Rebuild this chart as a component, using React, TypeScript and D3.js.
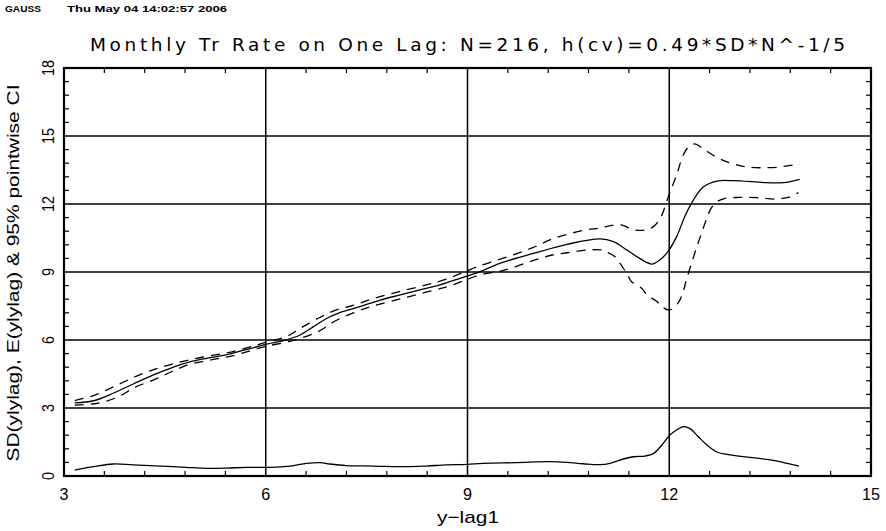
import React from "react";
import * as d3 from "d3";

// ---- data ----
const meanX = [3.16, 3.44, 3.73, 4.03, 4.33, 4.58, 4.87, 5.12, 5.42, 5.69, 6.0, 6.31, 6.51, 6.71, 6.91, 7.1, 7.4, 7.7, 8.0, 8.29, 8.59, 8.89, 9.18, 9.48, 9.98, 10.48, 10.97, 11.17, 11.37, 11.56, 11.74, 11.86, 11.98, 12.11, 12.23, 12.36, 12.51, 12.71, 12.95, 13.45, 13.7, 13.94];
const meanY = [3.23, 3.32, 3.65, 4.06, 4.46, 4.75, 5.03, 5.19, 5.35, 5.56, 5.81, 6.01, 6.22, 6.59, 6.96, 7.21, 7.47, 7.76, 7.99, 8.21, 8.43, 8.72, 9.01, 9.38, 9.82, 10.22, 10.46, 10.34, 9.97, 9.6, 9.35, 9.53, 9.9, 10.56, 11.44, 12.18, 12.76, 13.01, 13.03, 12.94, 12.94, 13.09];

const upperX = [3.16, 3.44, 3.76, 4.06, 4.32, 4.6, 4.87, 5.2, 5.5, 5.8, 6.0, 6.3, 6.51, 6.78, 7.04, 7.3, 7.6, 8.0, 8.4, 8.69, 8.96, 9.15, 9.52, 9.96, 10.3, 10.75, 10.97, 11.13, 11.3, 11.45, 11.6, 11.76, 11.88, 11.96, 12.04, 12.11, 12.2, 12.28, 12.38, 12.49, 12.6, 12.75, 12.87, 13.02, 13.17, 13.35, 13.6, 13.84, 13.94];
const upperY = [3.33, 3.55, 3.97, 4.38, 4.68, 4.93, 5.13, 5.32, 5.48, 5.72, 5.9, 6.14, 6.51, 6.96, 7.32, 7.53, 7.83, 8.15, 8.44, 8.69, 9.01, 9.24, 9.6, 10.06, 10.5, 10.85, 10.94, 11.05, 11.07, 10.88, 10.84, 10.99, 11.45, 12.1, 12.75, 13.28, 14.1, 14.5, 14.65, 14.47, 14.25, 13.99, 13.85, 13.72, 13.63, 13.6, 13.62, 13.72, 13.75];

const lowerX = [3.16, 3.5, 3.79, 4.06, 4.35, 4.6, 4.87, 5.2, 5.5, 5.8, 6.0, 6.3, 6.51, 6.78, 7.04, 7.31, 7.6, 8.0, 8.4, 8.7, 8.95, 9.18, 9.56, 9.97, 10.26, 10.48, 10.79, 11.0, 11.07, 11.19, 11.3, 11.38, 11.44, 11.59, 11.67, 11.82, 11.9, 12.0, 12.13, 12.2, 12.26, 12.38, 12.46, 12.55, 12.62, 12.71, 12.83, 13.05, 13.3, 13.6, 13.8, 13.92];
const lowerY = [3.13, 3.21, 3.47, 3.92, 4.26, 4.6, 4.93, 5.13, 5.3, 5.55, 5.72, 5.9, 6.07, 6.37, 6.85, 7.21, 7.5, 7.81, 8.12, 8.35, 8.62, 8.87, 9.09, 9.5, 9.75, 9.85, 9.97, 9.97, 9.88, 9.68, 9.24, 8.87, 8.57, 8.28, 7.99, 7.69, 7.45, 7.32, 7.63, 8.07, 8.7, 9.84, 10.54, 11.3, 11.8, 12.1, 12.25, 12.29, 12.28, 12.22, 12.32, 12.5];

const sdX = [3.16, 3.44, 3.73, 4.03, 4.43, 4.82, 5.12, 5.42, 5.72, 6.06, 6.36, 6.61, 6.81, 6.95, 7.2, 7.6, 8.1, 8.39, 8.69, 8.99, 9.23, 9.73, 10.23, 10.48, 10.72, 10.97, 11.12, 11.32, 11.47, 11.64, 11.77, 11.89, 12.01, 12.11, 12.21, 12.31, 12.43, 12.56, 12.71, 12.9, 13.2, 13.5, 13.69, 13.93];
const sdY = [0.26, 0.41, 0.53, 0.49, 0.44, 0.38, 0.34, 0.35, 0.38, 0.38, 0.44, 0.56, 0.59, 0.53, 0.46, 0.44, 0.41, 0.44, 0.49, 0.51, 0.56, 0.59, 0.63, 0.6, 0.54, 0.5, 0.56, 0.75, 0.85, 0.88, 1.0, 1.37, 1.81, 2.03, 2.18, 2.09, 1.74, 1.37, 1.06, 0.93, 0.82, 0.71, 0.6, 0.44];

const xTicks = [3, 6, 9, 12, 15];
const yTicks = [0, 3, 6, 9, 12, 15, 18];
const titleText = "Monthly Tr Rate on One Lag: N=216, h(cv)=0.49*SD*N^-1/5";
const xLabel = "y\u2212lag1";
const yLabel = "SD(ylylag), E(ylylag) & 95% pointwise CI";

export default function App() {
  const W = 886, H = 531;
  const x = d3.scaleLinear().domain([3, 15]).range([64, 871]);
  const y = d3.scaleLinear().domain([0, 18]).range([476, 68]);
  const mk = (xs: number[], ys: number[]) =>
    d3.line<number>().x((_, i) => x(xs[i])).y((d) => y(d)).curve(d3.curveCatmullRom.alpha(0.5))(ys) || "";

  const minorX = d3.range(3, 15.001, 0.6).filter((v) => Math.abs(v / 3 - Math.round(v / 3)) > 1e-6);
  const minorY = d3.range(0, 18.001, 0.6).filter((v) => Math.abs(v / 3 - Math.round(v / 3)) > 1e-6);
  const tl = 5;
  const font = "'Liberation Sans', Arial, sans-serif";

  return (
    <svg width={W} height={H} style={{ position: "absolute", left: 0, top: 0, background: "#fff" }}>
      <rect width={W} height={H} fill="#fff" />
      {/* header */}
      <text x={5} y={11.5} fill="#000" fontFamily={font} fontWeight="bold" fontSize={9} textLength={36} lengthAdjust="spacingAndGlyphs">GAUSS</text>
      <text x={67} y={11.5} fill="#000" fontFamily={font} fontWeight="bold" fontSize={9} textLength={160} lengthAdjust="spacingAndGlyphs">Thu May 04 14:02:57 2006</text>
      {/* title */}
      <text x={90} y={51} fill="#000" fontFamily="'DejaVu Sans', sans-serif" fontSize={18.5} textLength={755} lengthAdjust="spacing">{titleText}</text>

      {/* grid */}
      {yTicks.filter((v) => v > 0 && v < 18).map((v) => (
        <line key={"gy" + v} x1={x(3)} x2={x(15)} y1={y(v)} y2={y(v)} stroke="#000" strokeWidth={1.5} />
      ))}
      {xTicks.filter((v) => v > 3 && v < 15).map((v) => (
        <line key={"gx" + v} x1={x(v)} x2={x(v)} y1={y(0)} y2={y(18)} stroke="#000" strokeWidth={1.5} />
      ))}
      {/* minor ticks */}
      {minorX.map((v) => (
        <g key={"mx" + v}>
          <line x1={x(v)} x2={x(v)} y1={y(0)} y2={y(0) - tl} stroke="#000" strokeWidth={1.2} />
          <line x1={x(v)} x2={x(v)} y1={y(18)} y2={y(18) + tl} stroke="#000" strokeWidth={1.2} />
        </g>
      ))}
      {minorY.map((v) => (
        <g key={"my" + v}>
          <line x1={x(3)} x2={x(3) + tl} y1={y(v)} y2={y(v)} stroke="#000" strokeWidth={1.2} />
          <line x1={x(15)} x2={x(15) - tl} y1={y(v)} y2={y(v)} stroke="#000" strokeWidth={1.2} />
        </g>
      ))}
      {/* frame */}
      <rect x={x(3)} y={y(18)} width={x(15) - x(3)} height={y(0) - y(18)} fill="none" stroke="#000" strokeWidth={2.2} />

      {/* curves */}
      <path d={mk(upperX, upperY)} fill="none" stroke="#000" strokeWidth={1.3} strokeDasharray="9,7" />
      <path d={mk(lowerX, lowerY)} fill="none" stroke="#000" strokeWidth={1.3} strokeDasharray="9,7" />
      <path d={mk(meanX, meanY)} fill="none" stroke="#000" strokeWidth={1.3} />
      <path d={mk(sdX, sdY)} fill="none" stroke="#000" strokeWidth={1.3} />

      {/* x tick labels */}
      {xTicks.map((v) => (
        <text key={"xl" + v} x={x(v)} y={500} fill="#000" textAnchor="middle" fontFamily={font} fontSize={17}
          textLength={String(v).length * 9} lengthAdjust="spacingAndGlyphs">{v}</text>
      ))}
      {/* y tick labels */}
      {yTicks.map((v) => (
        <text key={"yl" + v} transform={`translate(54,${y(v)}) rotate(-90)`} fill="#000" textAnchor="middle" fontFamily={font} fontSize={16}
          textLength={String(v).length * 8} lengthAdjust="spacingAndGlyphs">{v}</text>
      ))}
      {/* axis titles */}
      <text x={468} y={523} fill="#000" textAnchor="middle" fontFamily={font} fontSize={17} textLength={62} lengthAdjust="spacingAndGlyphs">{xLabel}</text>
      <text transform={`translate(19,273) rotate(-90)`} fill="#000" textAnchor="middle" fontFamily={font} fontSize={17} textLength={377} lengthAdjust="spacingAndGlyphs">{yLabel}</text>
    </svg>
  );
}
